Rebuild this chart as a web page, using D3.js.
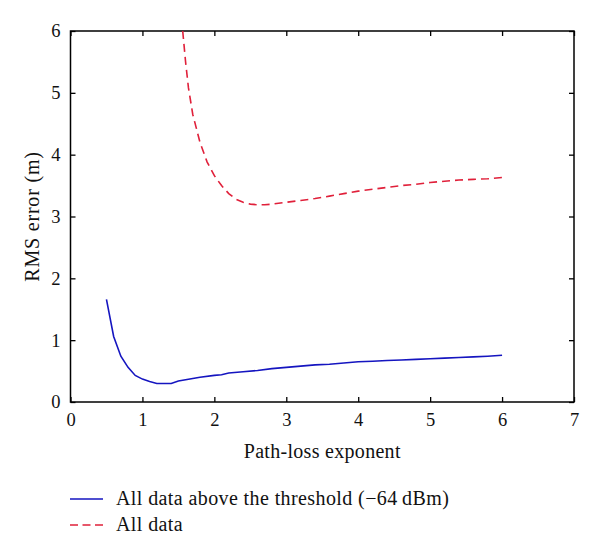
<!DOCTYPE html>
<html><head><meta charset="utf-8">
<script src="https://cdn.jsdelivr.net/npm/d3@7"></script>
<style>body{margin:0;background:#fff;} svg{display:block;} text{font-family:"Liberation Serif","DejaVu Serif",serif;fill:#111;}</style>
</head><body>
<script>
const xTicks = [0,1,2,3,4,5,6,7];
const yTicks = [0,1,2,3,4,5,6];
const blueX = [0.5,0.6,0.7,0.8,0.9,1.0,1.1,1.2,1.3,1.4,1.5,1.6,1.8,2.0,2.1,2.2,2.4,2.6,2.8,3.0,3.2,3.4,3.6,3.8,4.0,4.2,4.4,4.6,4.8,5.0,5.2,5.4,5.6,5.8,6.0];
const blueY = [1.66,1.06,0.74,0.56,0.43,0.37,0.33,0.30,0.30,0.30,0.34,0.36,0.40,0.43,0.44,0.47,0.49,0.51,0.54,0.56,0.58,0.60,0.61,0.63,0.65,0.66,0.67,0.68,0.69,0.70,0.71,0.72,0.73,0.74,0.755];
const redX = [1.56,1.6,1.64,1.7,1.8,1.9,2.0,2.1,2.2,2.3,2.4,2.5,2.6,2.7,2.8,3.0,3.2,3.4,3.6,3.8,4.0,4.2,4.4,4.6,4.8,5.0,5.2,5.4,5.6,5.8,6.0];
const redY = [6.0,5.5,5.08,4.65,4.2,3.88,3.66,3.50,3.37,3.28,3.23,3.20,3.19,3.19,3.20,3.23,3.26,3.29,3.33,3.37,3.41,3.44,3.47,3.50,3.52,3.55,3.57,3.59,3.60,3.61,3.63];
const seriesNames = ["All data above the threshold (\u221264\u2009dBm)", "All data"];

const W=600,H=556;
const L=70.5,R=574,T=31,B=402;
const svg=d3.select("body").append("svg").attr("width",W).attr("height",H);
const x=d3.scaleLinear().domain([0,7]).range([L,R]);
const y=d3.scaleLinear().domain([0,6]).range([B,T]);

const fs=18.5, fl=20;
const gx=svg.append("g").attr("transform",`translate(0,${B})`)
  .call(d3.axisBottom(x).tickValues(xTicks).tickSize(-5).tickPadding(11).tickFormat(d3.format("d")));
const gy=svg.append("g").attr("transform",`translate(${L},0)`)
  .call(d3.axisLeft(y).tickValues(yTicks).tickSize(-5).tickPadding(10).tickFormat(d3.format("d")));
const gxt=svg.append("g").attr("transform",`translate(0,${T})`)
  .call(d3.axisTop(x).tickValues(xTicks).tickSize(-5).tickFormat(""));
const gyr=svg.append("g").attr("transform",`translate(${R},0)`)
  .call(d3.axisRight(y).tickValues(yTicks).tickSize(-5).tickFormat(""));
[gx,gy,gxt,gyr].forEach(g=>{
  g.select(".domain").remove();
  g.selectAll(".tick line").attr("stroke","#000").attr("stroke-width",1.3);
  g.selectAll(".tick text").attr("font-size",fs).attr("font-family","Liberation Serif, serif").attr("fill","#111");
});
svg.append("rect").attr("x",L).attr("y",T).attr("width",R-L).attr("height",B-T)
  .attr("fill","none").attr("stroke","#000").attr("stroke-width",1.5);

const line=d3.line().x(d=>x(d[0])).y(d=>y(d[1]));
const blue=blueX.map((v,i)=>[v,blueY[i]]);
const red=redX.map((v,i)=>[v,redY[i]]);
svg.append("path").attr("d",line(blue)).attr("fill","none").attr("stroke","#1515c0").attr("stroke-width",1.6);
svg.append("path").attr("d",line(red)).attr("fill","none").attr("stroke","#e0203a").attr("stroke-width",1.6).attr("stroke-dasharray","8,5");

svg.append("text").attr("x",(L+R)/2).attr("y",458).attr("text-anchor","middle").attr("font-size",fl).attr("letter-spacing",0.3).text("Path-loss exponent");
svg.append("text").attr("transform",`translate(39,${(T+B)/2}) rotate(-90)`).attr("text-anchor","middle").attr("font-size",fl).attr("letter-spacing",0.8).text("RMS error (m)");

const leg=[{c:"#1515c0",d:null,y:499},{c:"#e0203a",d:"8,4.5",y:525}];
leg.forEach((l,i)=>{
  const ln=svg.append("line").attr("x1",70).attr("x2",103).attr("y1",l.y).attr("y2",l.y).attr("stroke",l.c).attr("stroke-width",1.6);
  if(l.d) ln.attr("stroke-dasharray",l.d);
  svg.append("text").attr("x",116).attr("y",l.y+6).attr("font-size",fl).attr("letter-spacing",0.4).text(seriesNames[i]);
});
</script>
</body></html>
